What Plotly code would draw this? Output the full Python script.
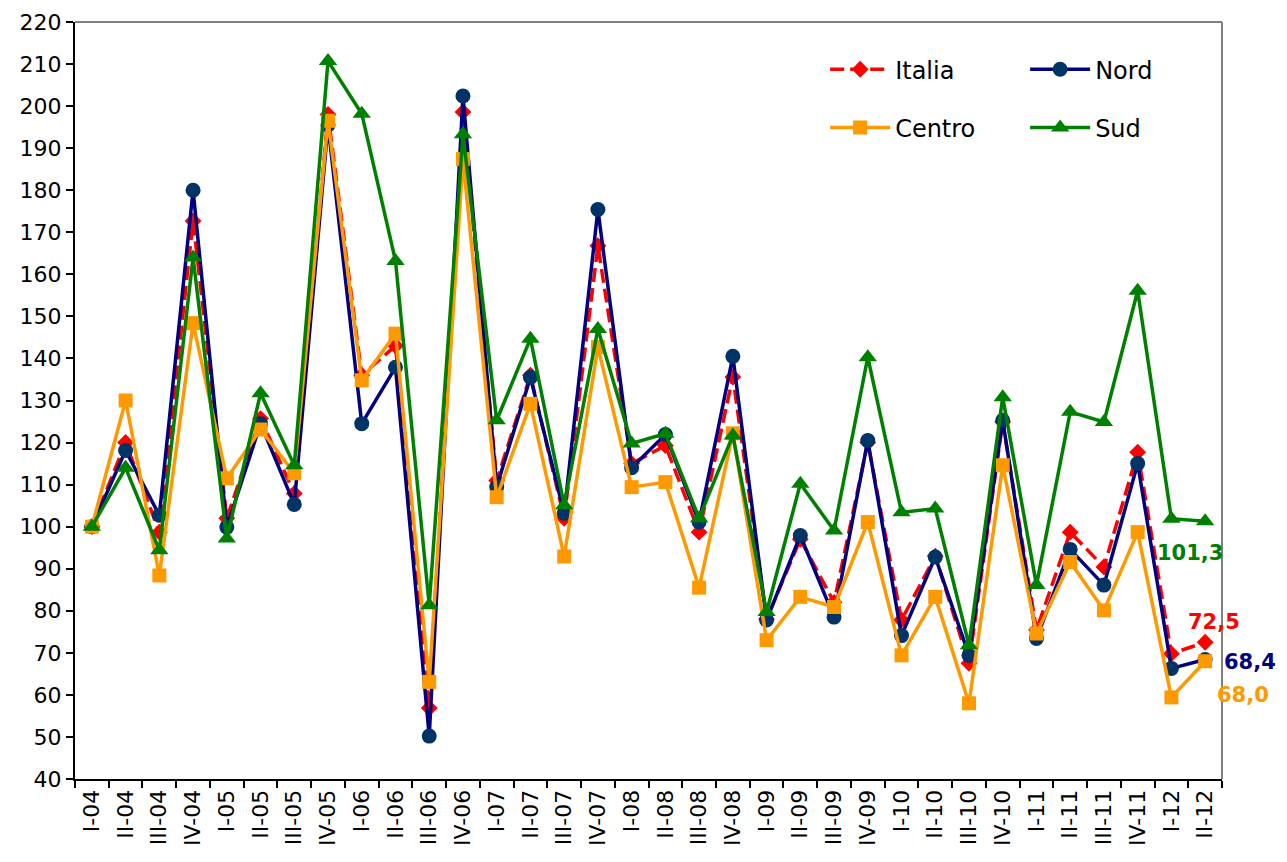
import plotly.graph_objects as go

# Quarterly index, I-04 = 100
quarters = [
    "I-04", "II-04", "III-04", "IV-04",
    "I-05", "II-05", "III-05", "IV-05",
    "I-06", "II-06", "III-06", "IV-06",
    "I-07", "II-07", "III-07", "IV-07",
    "I-08", "II-08", "III-08", "IV-08",
    "I-09", "II-09", "III-09", "IV-09",
    "I-10", "II-10", "III-10", "IV-10",
    "I-11", "II-11", "III-11", "IV-11",
    "I-12", "II-12",
]

italia = [100, 120.0, 98.7, 172.7, 102.0, 125.7, 107.9, 198.0,
          136.0, 143.0, 56.9, 198.6, 111.0, 136.0, 102.0, 166.8,
          115.0, 119.3, 98.7, 135.6, 78.0, 97.0, 82.0, 120.0,
          77.8, 93.0, 67.5, 124.9, 75.4, 98.7, 90.4, 117.7,
          69.8, 72.5]

nord = [100, 118.1, 102.7, 180.0, 99.9, 124.5, 105.3, 195.5,
        124.5, 137.9, 50.2, 202.4, 109.5, 135.5, 103.2, 175.4,
        114.0, 121.9, 101.1, 140.5, 77.8, 97.9, 78.5, 120.5,
        74.1, 92.8, 69.4, 125.3, 73.4, 94.6, 86.1, 115.0,
        66.3, 68.4]

centro = [100, 130.0, 88.4, 148.4, 111.5, 123.1, 112.7, 196.5,
          134.8, 145.9, 63.1, 187.4, 107.0, 129.2, 92.9, 142.7,
          109.4, 110.6, 85.5, 122.2, 73.0, 83.3, 80.9, 101.1,
          69.4, 83.3, 58.0, 114.6, 74.6, 91.6, 80.1, 98.7,
          59.4, 68.0]

sud = [100, 114.0, 94.4, 164.0, 97.2, 131.7, 114.6, 210.7,
       198.2, 163.2, 81.3, 193.3, 125.3, 144.7, 105.1, 147.0,
       119.8, 122.1, 102.0, 121.7, 79.7, 110.2, 99.1, 140.3,
       103.4, 104.3, 71.8, 130.8, 86.1, 127.3, 124.9, 156.1,
       101.9, 101.3]

FONT = "DejaVu Sans, Verdana, sans-serif"

fig = go.Figure()

fig.add_trace(go.Scatter(
    x=quarters, y=italia, name="Italia", mode="lines+markers",
    line=dict(color="#FF0000", width=3.5, dash="14px,6px"),
    marker=dict(symbol="diamond", size=13, color="#FF0000"),
    legend="legend",
))
fig.add_trace(go.Scatter(
    x=quarters, y=nord, name="Nord", mode="lines+markers",
    line=dict(color="#000080", width=3.5),
    marker=dict(symbol="circle", size=15, color="#003366"),
    legend="legend",
))
fig.add_trace(go.Scatter(
    x=quarters, y=centro, name="Centro", mode="lines+markers",
    line=dict(color="#FF9900", width=3.5),
    marker=dict(symbol="square", size=14, color="#FF9900"),
    legend="legend2",
))
fig.add_trace(go.Scatter(
    x=quarters, y=sud, name="Sud", mode="lines+markers",
    line=dict(color="#008000", width=3.5),
    marker=dict(symbol="triangle-up", size=16, color="#008000"),
    legend="legend2",
))

# Value labels on the last quarter
def fmt(v):
    return f"{v:.1f}".replace(".", ",")

last = quarters[-1]
labels = [
    (sud[-1], "#008000", -15, -32),
    (italia[-1], "#FF0000", 9, 20),
    (nord[-1], "#000080", 45, -2),
    (centro[-1], "#FF9900", 38, -34),
]
for val, col, dx, dy in labels:
    fig.add_annotation(
        x=last, y=val, xref="x", yref="y", text=f"<b>{fmt(val)}</b>",
        showarrow=False, xshift=dx, yshift=dy,
        font=dict(family=FONT, size=21, color=col),
    )

# Plot-area frame on top and right
fig.add_shape(type="line", xref="paper", yref="paper", x0=0, x1=1, y0=1, y1=1,
              line=dict(color="#808080", width=2), layer="below")
fig.add_shape(type="line", xref="paper", yref="paper", x0=1, x1=1, y0=0, y1=1,
              line=dict(color="#808080", width=2), layer="below")

legend_common = dict(
    orientation="h", xanchor="left", yanchor="middle",
    font=dict(family=FONT, size=24, color="#000000"),
    bgcolor="rgba(0,0,0,0)", itemwidth=60,
    entrywidth=125, entrywidthmode="pixels",
    itemclick=False, itemdoubleclick=False,
)

fig.update_layout(
    width=1287, height=862,
    margin=dict(l=75, r=65, t=22, b=83, autoexpand=False),
    paper_bgcolor="white", plot_bgcolor="white",
    font=dict(family=FONT, size=22, color="#000000"),
    showlegend=True,
    legend=dict(x=0.654, y=0.937, **legend_common),
    legend2=dict(x=0.654, y=0.86, **legend_common),
    xaxis=dict(
        type="category", range=[-0.5, len(quarters) - 0.5],
        showgrid=False, zeroline=False,
        showline=True, linecolor="#000000", linewidth=2,
        ticks="outside", tickson="boundaries", ticklen=7, tickcolor="#000000", tickwidth=2,
        tickangle=-90, tickfont=dict(family=FONT, size=22),
    ),
    yaxis=dict(
        range=[40, 220], dtick=10, tick0=40, showgrid=False, zeroline=False,
        showline=True, linecolor="#000000", linewidth=2,
        ticks="outside", ticklen=7, tickcolor="#000000", tickwidth=2,
        tickfont=dict(family=FONT, size=22),
    ),
)

fig.write_html("out.html")
